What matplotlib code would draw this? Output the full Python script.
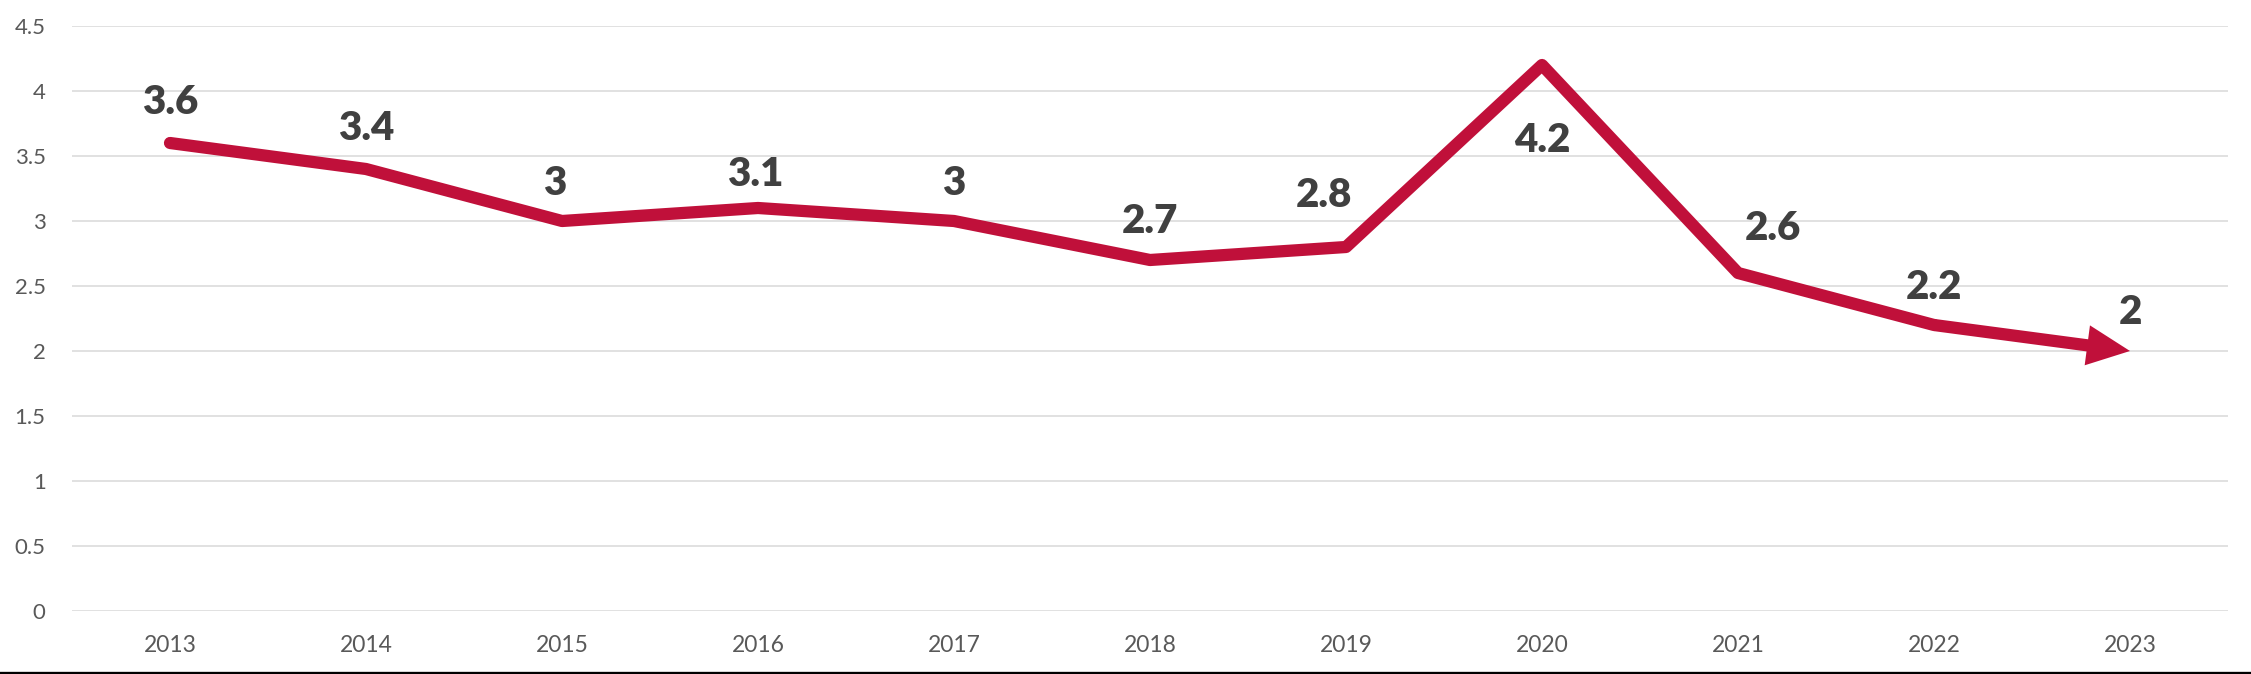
import matplotlib
matplotlib.use("Agg")
import matplotlib.pyplot as plt
from matplotlib.lines import Line2D

years = ["2013", "2014", "2015", "2016", "2017", "2018", "2019", "2020", "2021", "2022", "2023"]
values = [3.6, 3.4, 3.0, 3.1, 3.0, 2.7, 2.8, 4.2, 2.6, 2.2, 2.0]
labels = ["3.6", "3.4", "3", "3.1", "3", "2.7", "2.8", "4.2", "2.6", "2.2", "2"]
yticks = [0, 0.5, 1, 1.5, 2, 2.5, 3, 3.5, 4, 4.5]
ytick_labels = ["0", "0.5", "1", "1.5", "2", "2.5", "3", "3.5", "4", "4.5"]

# label offsets (points) relative to each data point
label_dx = [0, 0, -5, -2, 0, 0, -16, 0, 25, 0, 0]
label_dy = [29, 29, 27, 24, 27, 28, 37, -54, 32, 27, 28]

RED = "#C0103A"
TXT = "#404040"
TICK = "#595959"

plt.rcParams['font.family'] = ['Lato', 'DejaVu Sans']

fig = plt.figure(figsize=(22.51, 6.74), dpi=100)
ax = fig.add_axes([72/2251, 1-611/674, (2228-72)/2251, (611-26)/674])

x = list(range(len(years)))
ax.set_xlim(-0.5, len(years)-0.5)
ax.set_ylim(0, 4.5)

for t in yticks:
    ax.axhline(t, color="#d9d9d9", lw=1.1, zorder=0)

# main line up to second-last point
ax.plot(x[:-1], values[:-1], color=RED, lw=8.8, solid_joinstyle='round',
        solid_capstyle='round', zorder=3)
# last segment as filled arrow
ax.annotate('', xy=(x[-1], values[-1]), xytext=(x[-2], values[-2]),
            arrowprops=dict(arrowstyle='simple,head_length=3.1,head_width=2.9,tail_width=0.88',
                            lw=0, color=RED, shrinkA=0, shrinkB=0, mutation_scale=10),
            zorder=3)

for i, (v, lab) in enumerate(zip(values, labels)):
    ax.annotate(lab, xy=(i, v), xytext=(label_dx[i], label_dy[i]), textcoords='offset points',
                ha='center', va='center', fontsize=29, fontweight='heavy', color=TXT, zorder=4)

ax.set_xticks(x)
ax.set_xticklabels(years, fontsize=16.5, color=TICK)
ax.set_yticks(yticks)
ax.set_yticklabels(ytick_labels, fontsize=16, color=TICK)
ax.tick_params(length=0)
ax.tick_params(axis='x', pad=17)
ax.tick_params(axis='y', pad=19)
for s in ax.spines.values():
    s.set_visible(False)

fig.add_artist(Line2D([0, 1], [1.5/674, 1.5/674], color='black', lw=2.4, transform=fig.transFigure))

fig.savefig("out.png", dpi=100, facecolor='white')
